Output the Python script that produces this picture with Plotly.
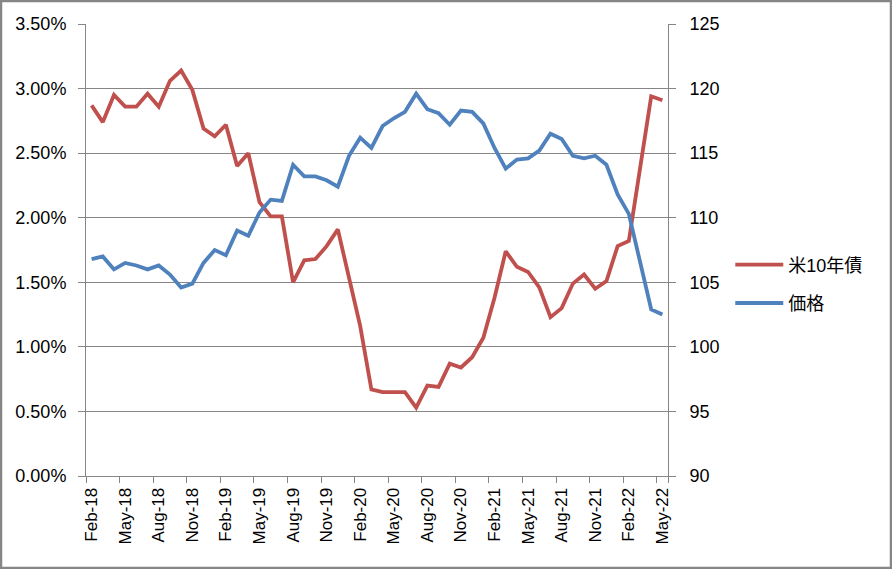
import pandas as pd
import plotly.graph_objects as go

months = list(pd.date_range("2018-02-01", periods=52, freq="MS").strftime("%b-%y"))

yield_10y = [2.87, 2.74, 2.95, 2.86, 2.86, 2.96, 2.86, 3.06, 3.14, 2.99,
             2.69, 2.63, 2.72, 2.40, 2.50, 2.12, 2.01, 2.01, 1.50, 1.67,
             1.68, 1.78, 1.91, 1.53, 1.16, 0.67, 0.65, 0.65, 0.65, 0.53,
             0.70, 0.69, 0.87, 0.84, 0.92, 1.07, 1.38, 1.74, 1.62, 1.58,
             1.46, 1.23, 1.30, 1.49, 1.56, 1.45, 1.51, 1.78, 1.82, 2.38,
             2.94, 2.91]

price = [106.8, 107.0, 106.0, 106.5, 106.3, 106.0, 106.3, 105.6, 104.6, 104.9,
         106.5, 107.5, 107.1, 109.0, 108.6, 110.4, 111.4, 111.3, 114.1, 113.2,
         113.2, 112.9, 112.4, 114.8, 116.2, 115.4, 117.1, 117.7, 118.2, 119.6,
         118.4, 118.1, 117.2, 118.3, 118.2, 117.3, 115.4, 113.8, 114.5, 114.6,
         115.2, 116.5, 116.1, 114.8, 114.6, 114.8, 114.1, 111.8, 110.3, 106.6,
         102.9, 102.5]

series_names = ["米10年債", "価格"]

grid = "#868686"
font_fam = "Liberation Sans, Arial, Noto Sans CJK JP, sans-serif"

fig = go.Figure()
fig.add_trace(go.Scatter(x=months, y=yield_10y, name=series_names[0], mode="lines",
                         line=dict(color="#C0504D", width=3.8), legendgroup="a"))
fig.add_trace(go.Scatter(x=months, y=price, name=series_names[1], mode="lines",
                         line=dict(color="#4F81BD", width=3.8), legendgroup="b",
                         yaxis="y2"))

fig.update_layout(
    width=892, height=569,
    margin=dict(l=86, r=224, t=24, b=93),
    paper_bgcolor="white", plot_bgcolor="white",
    font=dict(family=font_fam, size=18, color="black"),
    showlegend=True,
    legend=dict(x=1.107, y=0.425, xanchor="left", yanchor="middle",
                itemwidth=48,
                font=dict(size=18, family="Liberation Sans, Noto Sans CJK JP, sans-serif"),
                tracegroupgap=12, bgcolor="rgba(0,0,0,0)"),
    xaxis=dict(type="category", range=[-0.5, 51.5], tickmode="array",
               tickvals=months[::3], ticktext=months[::3], tickson="boundaries",
               tickangle=-90, ticks="outside", ticklen=6, tickcolor=grid,
               ticklabelstandoff=4,
               showline=True, linecolor=grid, linewidth=1, showgrid=False,
               tickfont=dict(size=17), mirror=False),
    yaxis=dict(range=[0, 3.5], dtick=0.5, tickformat=".2f", ticksuffix="%",
               showgrid=True, gridcolor=grid, gridwidth=1,
               showline=True, linecolor=grid, linewidth=1,
               ticks="outside", ticklen=7, tickcolor=grid, zeroline=False,
               ticklabelstandoff=8,
               tickfont=dict(size=18)),
    yaxis2=dict(range=[90, 125], dtick=5, overlaying="y", side="right",
                showgrid=False, showline=True, linecolor=grid, linewidth=1,
                ticks="outside", ticklen=7, tickcolor=grid, zeroline=False,
                ticklabelstandoff=10,
                tickfont=dict(size=18)),
    shapes=[dict(type="rect", xref="paper", yref="paper",
                 x0=-85/582, x1=805/582, y0=-92/452, y1=1 + 23/452,
                 line=dict(color=grid, width=2.5), fillcolor="rgba(0,0,0,0)",
                 layer="below")],
)

fig.write_html("out.html", config={"displayModeBar": False},
               post_script="document.body.style.margin='0';")
